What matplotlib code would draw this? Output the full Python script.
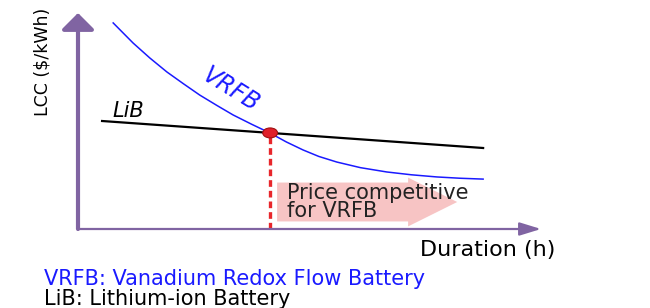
import matplotlib.pyplot as plt
import matplotlib.patches as mpatches
import numpy as np

# schematic LCC vs duration (arbitrary units)
lib_duration = [0.52, 8.75]
lib_lcc = [5.0, 3.75]

vrfb_duration = [0.76, 1.19, 1.55, 1.92, 2.28, 2.63, 3.0, 3.35, 3.75, 4.15,
                 4.5, 4.86, 5.2, 5.59, 6.1, 6.67, 7.2, 7.75, 8.25, 8.75]
vrfb_lcc = [9.54, 8.61, 7.92, 7.27, 6.72, 6.20, 5.72, 5.28, 4.85, 4.44,
            4.03, 3.66, 3.36, 3.10, 2.84, 2.64, 2.51, 2.41, 2.35, 2.31]

crossover = 4.15          # duration where VRFB becomes cheaper
competitive_end = 8.19    # tip of the shaded arrow

purple = '#8064a2'

fig = plt.figure(figsize=(6.5, 3.08), dpi=100)
ax = fig.add_axes([78 / 650, 79 / 308, 463 / 650, 216 / 308])
ax.set_xlim(0, 10)
ax.set_ylim(0, 10)
ax.axis('off')

# axes drawn as arrows
ax.annotate('', xy=(0, 1), xytext=(0, 0), xycoords='axes fraction',
            arrowprops=dict(arrowstyle='-|>,head_length=0.4,head_width=0.4',
                            color=purple, lw=3, mutation_scale=25,
                            shrinkA=0, shrinkB=0))
ax.annotate('', xy=(1, 0), xytext=(0, 0), xycoords='axes fraction',
            arrowprops=dict(arrowstyle='-|>,head_length=0.65,head_width=0.2',
                            color=purple, lw=1.6, mutation_scale=20,
                            shrinkA=0, shrinkB=0))

# shaded "price competitive" arrow
y_mid = 1.25
arrow = mpatches.FancyArrow(crossover + 0.15, y_mid, competitive_end - crossover - 0.15, 0,
                            width=1.8, head_width=2.26, head_length=1.06,
                            length_includes_head=True, color='#f7c4c4', lw=0)
ax.add_patch(arrow)

# curves
ax.plot(lib_duration, lib_lcc, color='black', lw=1.6)
ax.plot(vrfb_duration, vrfb_lcc, color='#1a1aff', lw=1.1)

cross_lcc = np.interp(crossover, lib_duration, lib_lcc)
ax.plot([crossover, crossover], [0, cross_lcc], color='#e8262b', lw=2.4,
        ls=(0, (2, 1.2)))
ax.add_patch(mpatches.Ellipse((crossover, cross_lcc), 0.32, 0.46,
                              facecolor='#e0202a', edgecolor='#a01010', lw=0.8, zorder=5))

# labels on the plot
ax.text(0.75, 5.0, 'LiB', fontsize=15, style='italic', color='black',
        ha='left', va='bottom')
ax.text(3.3, 6.45, 'VRFB', fontsize=17, style='italic', color='#1a1aff',
        ha='center', va='center', rotation=-32)
ax.text(4.51, 2.12, 'Price competitive\nfor VRFB', fontsize=15, color='#222222',
        ha='left', va='top', linespacing=0.85)

# axis titles
fig.text(42 / 650, 1 - 62 / 308, 'LCC ($/kWh)', rotation=90, fontsize=12.5,
         ha='center', va='center')
fig.text(488 / 650, 1 - 250 / 308, 'Duration (h)', fontsize=16,
         ha='center', va='center')

# footnote
fig.text(44 / 650, 1 - 285 / 308, 'VRFB: Vanadium Redox Flow Battery',
         fontsize=15, color='#1a1aff', ha='left', va='baseline')
fig.text(44 / 650, 1 - 305 / 308, 'LiB: Lithium-ion Battery',
         fontsize=15, color='black', ha='left', va='baseline')

fig.savefig('out.png', dpi=100)
